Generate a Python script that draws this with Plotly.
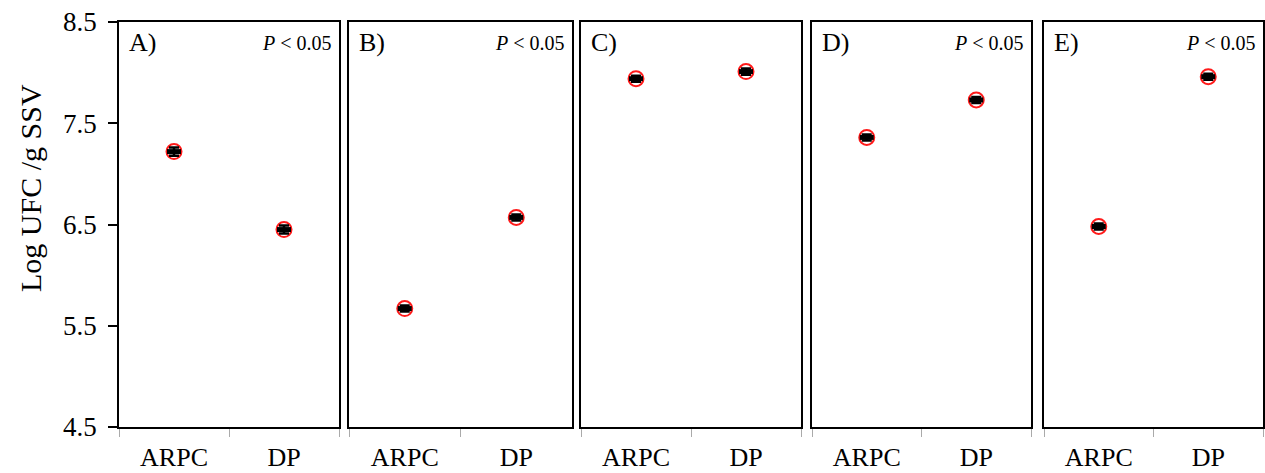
import plotly.graph_objects as go

categories = ["ARPC", "DP"]
panel_labels = ["A)", "B)", "C)", "D)", "E)"]
panel_pvals = ["<i>P</i> < 0.05", "<i>P</i> < 0.05", "", "<i>P</i> < 0.05", "<i>P</i> < 0.05"]
means_A = [7.22, 6.45]
means_B = [5.67, 6.57]
means_C = [7.94, 8.01]
means_D = [7.36, 7.73]
means_E = [6.48, 7.96]
err_A = [0.04, 0.04]
err_B = [0.03, 0.03]
err_C = [0.03, 0.03]
err_D = [0.03, 0.03]
err_E = [0.03, 0.03]
y_ticks = [4.5, 5.5, 6.5, 7.5, 8.5]

means = [means_A, means_B, means_C, means_D, means_E]
errs = [err_A, err_B, err_C, err_D, err_E]

W, H = 1265, 473
px_left = [119, 349, 581, 812, 1044]
px_right = [339, 572, 801, 1031, 1263]
px_top, px_bot = 22, 427

FONT = "Liberation Serif"
fig = go.Figure()

for i in range(5):
    n = "" if i == 0 else str(i + 1)
    xa = "x" + n
    ya = "y" + n
    fig.add_trace(go.Scatter(
        x=categories, y=means[i], mode="markers", xaxis=xa, yaxis=ya,
        marker=dict(symbol="circle", size=15, color="white",
                    line=dict(color="#ff1a1a", width=2)),
        showlegend=False, hoverinfo="skip"))
    fig.add_trace(go.Scatter(
        x=categories, y=means[i], mode="markers", xaxis=xa, yaxis=ya,
        marker=dict(symbol="line-ew", size=10, color="black",
                    line=dict(color="black", width=5)),
        error_y=dict(type="data", array=errs[i], color="black",
                     thickness=2.5, width=5),
        showlegend=False, hoverinfo="skip"))

    xdom = [px_left[i] / W, px_right[i] / W]
    ydom = [1 - px_bot / H, 1 - px_top / H]
    fig.layout["xaxis" + n] = dict(
        domain=xdom, anchor=ya, type="category", range=[-0.5, 1.5],
        categoryorder="array", categoryarray=categories, automargin=False,
        tickson="boundaries", ticks="outside", ticklen=8, tickcolor="#aaaaaa",
        tickwidth=1, showline=True, linecolor="black", linewidth=1.5,
        mirror=True, showgrid=False, zeroline=False, ticklabelstandoff=6,
        tickfont=dict(family=FONT, size=26, color="black"))
    fig.layout["yaxis" + n] = dict(
        domain=ydom, anchor=xa, range=[4.5, 8.5], automargin=False,
        tickvals=y_ticks, ticktext=[f"{v:.1f}" for v in y_ticks],
        showticklabels=(i == 0), ticks="outside" if i == 0 else "",
        ticklen=9, tickcolor="black", tickwidth=1.5, ticklabelstandoff=6,
        showline=True, linecolor="black", linewidth=1.5, mirror=True,
        showgrid=False, zeroline=False,
        tickfont=dict(family=FONT, size=27, color="black"))

    fig.add_annotation(text=panel_labels[i], xref="paper", yref="paper",
                       x=(px_left[i] + 8) / W, y=1 - 26 / H,
                       xanchor="left", yanchor="top", showarrow=False,
                       font=dict(family=FONT, size=26, color="black"))
    if panel_pvals[i]:
        fig.add_annotation(text=panel_pvals[i], xref="paper", yref="paper",
                           x=(px_right[i] - 5) / W, y=1 - 30 / H,
                           xanchor="right", yanchor="top", showarrow=False,
                           font=dict(family=FONT, size=20, color="black"))

fig.add_annotation(text="Log UFC /g SSV", xref="paper", yref="paper",
                   x=30 / W, y=1 - 188 / H, textangle=-90,
                   xanchor="center", yanchor="middle", showarrow=False,
                   font=dict(family=FONT, size=30, color="black"))

fig.update_layout(width=W, height=H, margin=dict(l=0, r=0, t=0, b=0),
                  paper_bgcolor="white", plot_bgcolor="white")

fig.write_html("out.html")
